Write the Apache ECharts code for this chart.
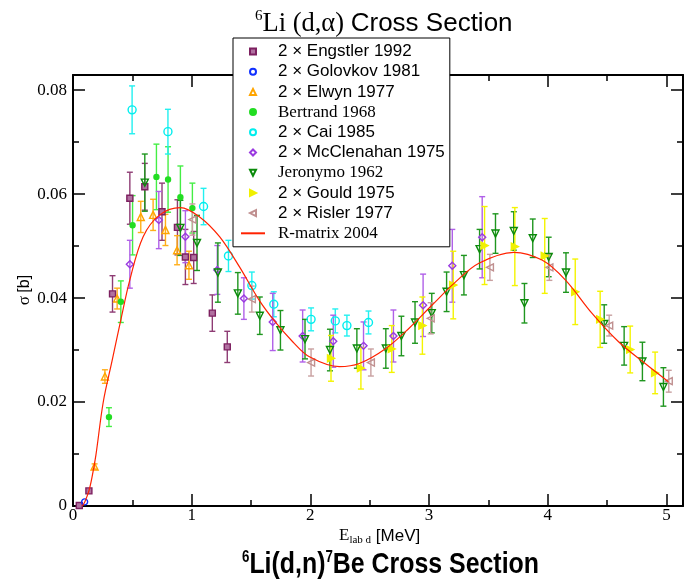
<!DOCTYPE html>
<html><head><meta charset="utf-8">
<script src="https://cdn.jsdelivr.net/npm/echarts@6/dist/echarts.min.js"></script>
<style>html,body{margin:0;padding:0;background:#fff}#c{width:686px;height:584px}</style>
</head><body><div id="c"></div><script>
// ---- data: [E (MeV), sigma (b), error (b)] ----
const engstler = [[0.053,0.0001,0],[0.134,0.0029,0],[0.333,0.0408,0.0035],[0.479,0.0592,0.005],[0.605,0.0614,0.0045],[0.75,0.0566,0.0055],[0.88,0.0536,0.0053],[0.947,0.0479,0.0053],[1.017,0.0478,0.005],[1.174,0.0371,0.0035],[1.30,0.0306,0.003]];
const golovkov = [[0.098,0.0008,0]];
const elwyn = [[0.182,0.0076,0.0005],[0.269,0.0249,0.0013],[0.372,0.0399,0.002],[0.571,0.0556,0.003],[0.675,0.056,0.003],[0.779,0.0531,0.003],[0.877,0.0492,0.0028],[0.977,0.0463,0.0027]];
const bertrand = [[0.303,0.0171,0.0018],[0.403,0.0393,0.004],[0.502,0.054,0.0057],[0.703,0.0633,0.0063],[0.801,0.0628,0.0063],[0.905,0.0594,0.006],[1.006,0.0573,0.0048]];
const cai = [[0.498,0.0762,0.0046],[0.80,0.072,0.0043],[1.10,0.0576,0.0035],[1.31,0.0481,0.003],[1.507,0.0424,0.0026],[1.692,0.0388,0.0024],[2.006,0.0359,0.0022],[2.21,0.0356,0.0023],[2.308,0.0347,0.002],[2.49,0.0353,0.0022]];
const mcclenahan = [[0.479,0.0465,0.0046],[0.723,0.055,0.0055],[0.947,0.0518,0.005],[1.216,0.0454,0.0047],[1.44,0.0399,0.004],[1.683,0.0354,0.0055],[1.935,0.0327,0.005],[2.193,0.0317,0.005],[2.448,0.0308,0.0046],[2.70,0.0327,0.005],[2.95,0.0386,0.006],[3.196,0.0462,0.007],[3.448,0.0517,0.0078]];
const jeronymo = [[0.605,0.0622,0.0055],[0.905,0.0535,0.0053],[1.045,0.0506,0.0053],[1.221,0.0449,0.0057],[1.389,0.0409,0.004],[1.574,0.0366,0.0036],[1.748,0.0338,0.0038],[1.955,0.0321,0.0038],[2.165,0.03,0.004],[2.392,0.0303,0.0038],[2.636,0.0303,0.0038],[2.767,0.0327,0.0038],[2.882,0.0353,0.004],[3.023,0.0371,0.0038],[3.148,0.0412,0.0038],[3.294,0.0444,0.0038],[3.426,0.0494,0.0038],[3.56,0.0524,0.0038],[3.714,0.0529,0.0037],[3.804,0.039,0.0038],[3.874,0.0515,0.0037],[4.008,0.0479,0.0038],[4.154,0.0449,0.0038],[4.476,0.035,0.0037],[4.644,0.0308,0.0037],[4.798,0.0278,0.0037],[4.975,0.0229,0.0037]];
const gould = [[2.174,0.0284,0.0044],[2.426,0.0265,0.004],[2.686,0.0302,0.0045],[2.944,0.0347,0.0055],[3.204,0.0425,0.0065],[3.468,0.0501,0.0075],[3.723,0.0499,0.0075],[3.975,0.0481,0.0072],[4.232,0.0412,0.0063],[4.442,0.0359,0.0054],[4.695,0.0301,0.0045],[4.905,0.0256,0.004]];
const risler = [[1.006,0.0551,0.003],[1.507,0.0398,0.0025],[2.006,0.0276,0.0026],[2.51,0.0276,0.0026],[3.014,0.0361,0.003],[3.513,0.0459,0.0025],[4.014,0.0459,0.0025],[4.518,0.0347,0.002],[5.02,0.024,0.0021]];
const rmatrixE = [0.08,0.10,0.134,0.16,0.193,0.255,0.33,0.403,0.479,0.591,0.731,0.905,1.067,1.235,1.403,1.571,1.711,1.851,1.992,2.244,2.412,2.636,2.832,3.028,3.224,3.42,3.714,3.952,4.148,4.372,4.597,4.821,5.017];
const rmatrixS = [0,0.0008,0.0029,0.0055,0.0098,0.020,0.028,0.0358,0.0435,0.0518,0.056,0.0574,0.0556,0.0518,0.046,0.0395,0.0352,0.0316,0.0287,0.0268,0.0274,0.0303,0.0342,0.0387,0.0431,0.0467,0.0488,0.0473,0.0435,0.0371,0.0316,0.0274,0.0239];
const xTicks = [0,1,2,3,4,5];
const yTicks = [0,0.02,0.04,0.06,0.08];

const XMAX = 5.14, YMAX = 0.0829;
const SERIF = "'Liberation Serif','Times New Roman',serif";
const SANS = "'Liberation Sans',Arial,Helvetica,sans-serif";

// legend icons (aspect-kept paths)
const ICON = {
  rect:'path://M0,0H10V10H0Z', up:'path://M0,10L5,0L10,10Z', down:'path://M0,0L10,0L5,10Z',
  right:'path://M0,0L10,5L0,10Z', left:'path://M10,0L0,5L10,10Z', diamond:'path://M5,0L10,5L5,10L0,5Z', circle:'circle'
};

const sets = [
  {name:'2 × Engstler 1992', data:engstler, color:'#7d2060', bar:'#8e3c74', symbol:'rect', size:6, rot:0, fill:'#b070a0', icon:ICON.rect},
  {name:'2 × Golovkov 1981', data:golovkov, color:'#1030ff', bar:'#1030ff', symbol:'circle', size:6, rot:0, fill:'transparent', icon:ICON.circle},
  {name:'2 × Elwyn 1977', data:elwyn, color:'#ffa500', bar:'#ffae1a', symbol:'triangle', size:7, rot:0, fill:'transparent', icon:ICON.up},
  {name:'Bertrand 1968', data:bertrand, color:'#22dd22', bar:'#44ee44', symbol:'circle', size:5, rot:0, fill:'#22dd22', icon:ICON.circle},
  {name:'2 × Cai 1985', data:cai, color:'#00eeee', bar:'#22f0f0', symbol:'circle', size:8, rot:0, fill:'transparent', icon:ICON.circle},
  {name:'2 × McClenahan 1975', data:mcclenahan, color:'#9a3ae0', bar:'#b060e8', symbol:'diamond', size:7, rot:0, fill:'transparent', icon:ICON.diamond},
  {name:'Jeronymo 1962', data:jeronymo, color:'#0a8a0a', bar:'#1f961f', symbol:'triangle', size:7, rot:180, fill:'transparent', icon:ICON.down},
  {name:'2 × Gould 1975', data:gould, color:'#f0f000', bar:'#f4f400', symbol:'triangle', size:7, rot:-90, fill:'#f0f000', icon:ICON.right},
  {name:'2 × Risler 1977', data:risler, color:'#c09090', bar:'#c8a0a0', symbol:'triangle', size:7, rot:90, fill:'transparent', icon:ICON.left}
];
const serifNames = ['Bertrand 1968','Jeronymo 1962','R-matrix 2004'];

function errRender(color){
  return function(params, api){
    const x = api.value(0), y = api.value(1), e = api.value(2);
    if (!e) return null;
    const t = api.coord([x, y + e]), b = api.coord([x, y - e]);
    const w = 3, st = {stroke: color, lineWidth: 1.4};
    return {type:'group', children:[
      {type:'line', shape:{x1:t[0], y1:t[1], x2:b[0], y2:b[1]}, style:st},
      {type:'line', shape:{x1:t[0]-w, y1:t[1], x2:t[0]+w, y2:t[1]}, style:st},
      {type:'line', shape:{x1:b[0]-w, y1:b[1], x2:b[0]+w, y2:b[1]}, style:st}
    ]};
  };
}

const series = [];
sets.forEach(s => {
  series.push({type:'custom', name:s.name+' err', data:s.data, encode:{x:0,y:1}, renderItem:errRender(s.bar), z:1, silent:true});
});
sets.forEach(s => {
  series.push({type:'scatter', name:s.name, data:s.data.map(d=>[d[0],d[1]]), symbol:s.symbol, symbolSize:s.size, symbolRotate:s.rot,
    itemStyle:{color:s.fill, borderColor:s.color, borderWidth:1.4, opacity:1}, z:3, silent:true});
});
series.push({type:'line', name:'R-matrix 2004', data:rmatrixE.map((e,i)=>[e,rmatrixS[i]]), smooth:0.35, symbol:'none', showSymbol:false,
  lineStyle:{color:'#ff2200', width:1.2}, z:4, silent:true});

const tickStyle = {color:'#000', width:1.5};
const lineStyle = {color:'#000', width:2};
function xa(pos, interval, len, withLine, withLabel){
  return {type:'value', min:0, max:XMAX, interval:interval, position:pos, splitLine:{show:false},
    axisLine:{show:withLine, onZero:false, lineStyle:lineStyle},
    axisTick:{show:true, inside:true, length:len, lineStyle:tickStyle},
    axisLabel:withLabel ? {show:true, color:'#000', fontFamily:SERIF, fontSize:17, margin:1,
      formatter: v => xTicks.indexOf(Math.round(v*1000)/1000) >= 0 ? String(Math.round(v)) : ''} : {show:false}};
}
function ya(pos, interval, len, withLine, withLabel){
  return {type:'value', min:0, max:YMAX, interval:interval, position:pos, splitLine:{show:false},
    axisLine:{show:withLine, onZero:false, lineStyle:lineStyle},
    axisTick:{show:true, inside:true, length:len, lineStyle:tickStyle},
    axisLabel:withLabel ? {show:true, color:'#000', fontFamily:SERIF, fontSize:17, margin:6,
      formatter: v => { const r = Math.round(v*10000)/10000; const i = yTicks.indexOf(r); return i < 0 ? '' : (r === 0 ? '0' : r.toFixed(2)); }} : {show:false}};
}

const legendData = sets.map(s => ({name:s.name, icon:s.icon})).concat([{name:'R-matrix 2004', itemStyle:{opacity:0}}]);

const option = {
  animation:false,
  backgroundColor:'#fff',
  grid:{left:73, right:1, top:75, bottom:78, containLabel:false},
  xAxis:[xa('bottom',1,12,true,true), xa('top',1,12,true,false), xa('bottom',0.5,6,false,false), xa('top',0.5,6,false,false)],
  yAxis:[ya('left',0.02,12,true,true), ya('right',0.02,12,true,false), ya('left',0.01,6,false,false), ya('right',0.01,6,false,false)],
  legend:{
    data: legendData,
    orient:'vertical', left:233, top:38, padding:[5,5,5,7], itemWidth:24, itemHeight:6, itemGap:3.2,
    symbolKeepAspect:true,
    backgroundColor:'#fff', borderColor:'#000', borderWidth:1, selectedMode:false, z:10,
    formatter: n => serifNames.indexOf(n) >= 0 ? '{t|' + n + '}' : '{s|' + n + '}',
    textStyle:{color:'#000', rich:{
      s:{fontFamily:SANS, fontSize:17, lineHeight:16, padding:[0,0,0,8], color:'#000'},
      t:{fontFamily:SERIF, fontSize:17, lineHeight:16, padding:[0,0,0,8], color:'#000'}
    }}
  },
  graphic:[
    {type:'text', x:255, y:9, style:{text:'{s|6}{t|Li (d,α) }{h|Cross Section}', align:'left', verticalAlign:'top', fill:'#000',
      rich:{ s:{fontFamily:SERIF, fontSize:15, lineHeight:5, verticalAlign:'top', fill:'#000'},
             t:{fontFamily:SERIF, fontSize:26.5, lineHeight:30, fill:'#000'},
             h:{fontFamily:SANS, fontSize:26, lineHeight:30, fill:'#000'} }}},
    {type:'text', x:242, y:549.5, scaleX:0.83, style:{text:'{s|6}{m|Li(d,n)}{s|7}{m|Be Cross Section}', align:'left', verticalAlign:'top', fill:'#000',
      rich:{ s:{fontFamily:SANS, fontWeight:'bold', fontSize:16, lineHeight:11, verticalAlign:'top', fill:'#000'},
             m:{fontFamily:SANS, fontWeight:'bold', fontSize:30, lineHeight:30, fill:'#000'} }}},
    {type:'text', x:339, y:526, style:{text:'{e|E}{sub|lab d}{m| [MeV]}', align:'left', verticalAlign:'top', fill:'#000',
      rich:{ e:{fontFamily:SERIF, fontSize:17, lineHeight:20, fill:'#000'},
             sub:{fontFamily:SERIF, fontSize:11, lineHeight:4, verticalAlign:'bottom', fill:'#000'},
             m:{fontFamily:SANS, fontSize:17, lineHeight:20, fill:'#000'} }}},
    {type:'text', x:25, y:290, rotation:Math.PI/2, style:{text:'{g|σ} {m|[b]}', align:'center', verticalAlign:'middle', fill:'#000',
      rich:{ g:{fontFamily:SERIF, fontSize:17, lineHeight:20, fill:'#000'},
             m:{fontFamily:SANS, fontSize:16, lineHeight:20, fill:'#000'} }}}
  ],
  series: series
};
const chart = echarts.init(document.getElementById('c'));
chart.setOption(option);
</script></body></html>
